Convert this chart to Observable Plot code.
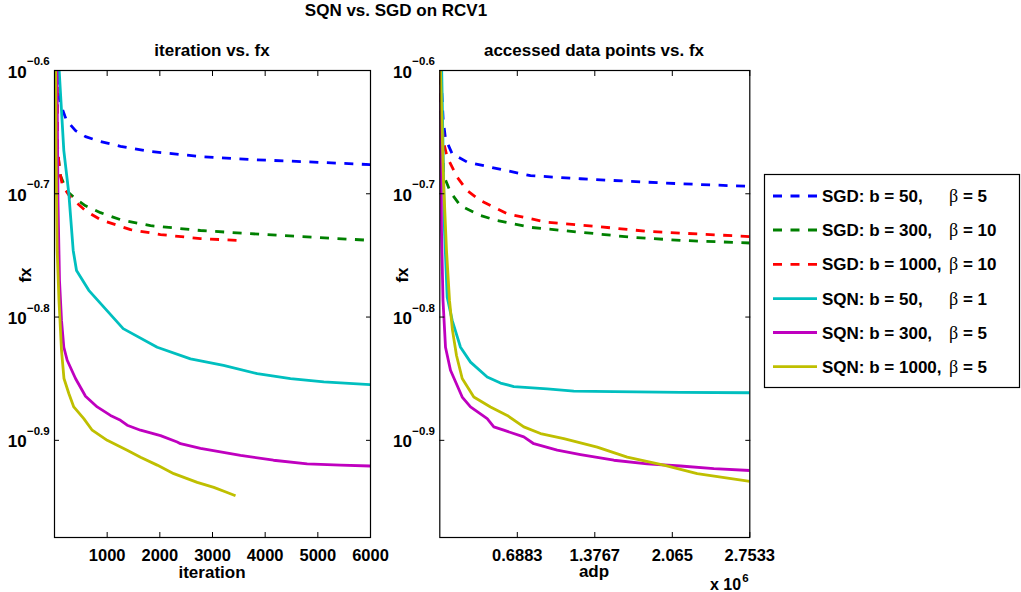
<!DOCTYPE html>
<html><head><meta charset="utf-8">
<script src="https://cdn.jsdelivr.net/npm/d3@7"></script>
<script src="https://cdn.jsdelivr.net/npm/@observablehq/plot@0.6"></script>
<style>
html,body{margin:0;padding:0;background:#fff;}
#chart{position:relative;width:1021px;height:592px;overflow:hidden;}
#chart svg{position:absolute;top:0;}
</style></head><body><div id="chart"></div>
<script>
const FONT = '"Liberation Sans", Arial, Helvetica, sans-serif';

// ---- series meta ----
const seriesColors = ["#0000ff", "#008000", "#ff0000", "#00bfbf", "#bf00bf", "#bfbf00"];
const seriesDashed = [true, true, true, false, false, false];
const legendPrefix = ["SGD: b = 50,", "SGD: b = 300,", "SGD: b = 1000,", "SQN: b = 50,", "SQN: b = 300,", "SQN: b = 1000,"];
const legendBeta = ["5", "10", "10", "1", "5", "5"];

// ---- axes ----
const yTickValues = [10 ** -0.6, 10 ** -0.7, 10 ** -0.8, 10 ** -0.9];
const yTickExponents = ["\u22120.6", "\u22120.7", "\u22120.8", "\u22120.9"];
const yDomain = [0.105, 10 ** -0.6];
const iterDomain = [0, 6000];
const iterTicks = [1000, 2000, 3000, 4000, 5000, 6000];
const iterTickLabels = ["1000", "2000", "3000", "4000", "5000", "6000"];
const adpDomain = [0, 2753300];
const adpTicks = [688325, 1376650, 2064975, 2753300];
const adpTickLabels = ["0.6883", "1.3767", "2.065", "2.7533"];

// ---- iteration vs fx : [iteration, fx] ----
const iterSGD50 = [[34,0.2656],[51,0.2512],[60,0.2419],[114,0.2360],[228,0.2288],[399,0.2245],[589,0.2220],[873,0.2200],[1253,0.2180],[1823,0.2159],[2772,0.2139],[3721,0.2127],[4671,0.2119],[6000,0.2107]];
const iterSGD300 = [[45,0.2600],[57,0.2163],[114,0.2064],[228,0.2007],[399,0.1977],[589,0.1951],[873,0.1926],[1253,0.1901],[1823,0.1880],[2772,0.1863],[3721,0.1852],[4671,0.1842],[6000,0.1829]];
const iterSGD1000 = [[45,0.2600],[57,0.2183],[95,0.2084],[152,0.2026],[304,0.1982],[589,0.1933],[873,0.1901],[1443,0.1866],[2013,0.1849],[2772,0.1835],[3456,0.1829]];
const iterSQN50 = [[57,0.2656],[89,0.2512],[177,0.2163],[272,0.1996],[355,0.1795],[418,0.1729],[651,0.1666],[873,0.1626],[1304,0.1551],[1950,0.1498],[2582,0.1466],[3209,0.1448],[3849,0.1426],[4481,0.1413],[5113,0.1404],[6000,0.1397]];
const iterSQN300 = [[44,0.2706],[47,0.2512],[66,0.1970],[95,0.1697],[133,0.1575],[177,0.1498],[241,0.1462],[399,0.1413],[589,0.1367],[811,0.1340],[1063,0.1319],[1253,0.1307],[1380,0.1295],[1633,0.1283],[2013,0.1270],[2330,0.1255],[2392,0.1251],[2772,0.1240],[3532,0.1224],[4158,0.1213],[4798,0.1205],[5430,0.1202],[6000,0.1200]];
const iterSQN1000 = [[19,0.2656],[28,0.2163],[51,0.1795],[85,0.1635],[133,0.1489],[180,0.1413],[272,0.1374],[366,0.1340],[556,0.1311],[716,0.1283],[1001,0.1259],[1380,0.1236],[1633,0.1220],[1950,0.1202],[2265,0.1183],[2710,0.1164],[3025,0.1153],[3279,0.1142],[3437,0.1135]];

// ---- accessed data points vs fx : [adp, fx] ----
const adpSGD50 = [[2000,0.2656],[8000,0.2512],[30000,0.2290],[50600,0.2211],[110100,0.2150],[243400,0.2117],[450300,0.2097],[805600,0.2064],[1249700,0.2052],[1693800,0.2042],[2137900,0.2033],[2753300,0.2023]];
const adpSGD300 = [[5000,0.2656],[10700,0.2288],[35500,0.2064],[95000,0.2001],[183900,0.1951],[361500,0.1916],[509800,0.1898],[805600,0.1874],[1249700,0.1857],[1693800,0.1840],[2137900,0.1829],[2753300,0.1820]];
const adpSGD1000 = [[4000,0.2656],[10700,0.2331],[35500,0.2192],[65700,0.2137],[154500,0.2058],[243400,0.2007],[361500,0.1970],[598600,0.1922],[953900,0.1892],[1398000,0.1877],[1842100,0.1860],[2286200,0.1851],[2753300,0.1842]];
const adpSQN50 = [[13000,0.2656],[16900,0.2512],[41700,0.1863],[65700,0.1645],[110100,0.1575],[183900,0.1498],[272700,0.1457],[421000,0.1417],[539100,0.1401],[657300,0.1392],[953900,0.1386],[1190200,0.1380],[1545500,0.1379],[2137900,0.1377],[2753300,0.1376]];
const adpSQN300 = [[4000,0.2706],[5300,0.2512],[15100,0.1863],[28400,0.1635],[50600,0.1498],[95000,0.1435],[199000,0.1365],[272700,0.1340],[421000,0.1311],[479600,0.1291],[568400,0.1283],[746100,0.1267],[834900,0.1251],[1042700,0.1236],[1249700,0.1226],[1545500,0.1213],[1842100,0.1205],[2137900,0.1200],[2433700,0.1194],[2753300,0.1190]];
const adpSQN1000 = [[5000,0.2656],[6200,0.2512],[32900,0.2045],[59500,0.1795],[86200,0.1635],[112800,0.1546],[148300,0.1475],[199000,0.1413],[302000,0.1365],[450300,0.1340],[598600,0.1319],[746100,0.1291],[894400,0.1275],[1101400,0.1263],[1398000,0.1243],[1664500,0.1220],[1989600,0.1202],[2286200,0.1183],[2753300,0.1166]];

const iterSeries = [iterSGD50, iterSGD300, iterSGD1000, iterSQN50, iterSQN300, iterSQN1000];
const adpSeries = [adpSGD50, adpSGD300, adpSGD1000, adpSQN50, adpSQN300, adpSQN1000];

const chart = document.getElementById("chart");
const LW = 2.8;

function panel({series, xDomain, xTicks, xTickLabels, left, width, marginLeft, marginRight}) {
  const plot = Plot.plot({
    width, height: 592,
    marginLeft, marginRight, marginTop: 70, marginBottom: 55,
    style: {fontFamily: FONT, background: "transparent", color: "black"},
    x: {domain: xDomain},
    y: {type: "log", domain: yDomain},
    marks: [
      ...series.map((s, i) => Plot.line(s, {
        x: d => d[0], y: d => d[1],
        stroke: seriesColors[i], strokeWidth: LW,
        strokeDasharray: seriesDashed[i] ? "9,8.5" : null,
        strokeLinecap: "butt", strokeLinejoin: "round",
        clip: true
      })),
      Plot.frame({stroke: "black", strokeWidth: 1.2}),
      Plot.axisX({anchor: "bottom", ticks: xTicks, tickSize: -5, tickFormat: () => "", label: null}),
      Plot.axisX({anchor: "top", ticks: xTicks, tickSize: -5, tickFormat: () => "", label: null}),
      Plot.axisY({anchor: "left", ticks: yTickValues, tickSize: -5, tickFormat: () => "", label: null}),
      Plot.axisY({anchor: "right", ticks: yTickValues, tickSize: -5, tickFormat: () => "", label: null}),
      Plot.axisX({anchor: "bottom", ticks: xTicks, tickSize: 0, tickPadding: 11.3,
        tickFormat: d => xTickLabels[xTicks.indexOf(d)], fontSize: 16.5, fontWeight: "bold", label: null}),
      Plot.text(yTickValues, {y: d => d, frameAnchor: "left", text: () => "10",
        textAnchor: "start", lineAnchor: "middle", dx: -46.7, dy: 1.7, fontSize: 17, fontWeight: "bold", fill: "black"}),
      Plot.text(yTickValues, {y: d => d, frameAnchor: "left", text: (d, i) => yTickExponents[i],
        textAnchor: "start", lineAnchor: "middle", dx: -27.5, dy: -9.2, fontSize: 11.5, fontWeight: "bold", fill: "black"})
    ]
  });
  plot.style.left = left + "px";
  chart.appendChild(plot);
}

panel({series: iterSeries, xDomain: iterDomain, xTicks: iterTicks, xTickLabels: iterTickLabels,
  left: 0, width: 390, marginLeft: 54, marginRight: 20});
panel({series: adpSeries, xDomain: adpDomain, xTicks: adpTicks, xTickLabels: adpTickLabels,
  left: 380, width: 410, marginLeft: 59.3, marginRight: 40.7});

// ---- overlay: titles, axis labels, legend ----
const svg = d3.select(chart).append("svg")
  .attr("width", 1021).attr("height", 592)
  .style("left", "0px").style("pointer-events", "none")
  .attr("font-family", FONT).attr("font-weight", "bold");

const texts = [
  {t: "SQN vs. SGD on RCV1", x: 396, y: 16, size: 17},
  {t: "iteration vs. fx", x: 212, y: 56, size: 17},
  {t: "accessed data points vs. fx", x: 594, y: 56, size: 17},
  {t: "iteration", x: 212, y: 578, size: 17},
  {t: "adp", x: 594, y: 577, size: 17}
];
texts.forEach(d => svg.append("text").attr("x", d.x).attr("y", d.y)
  .attr("text-anchor", "middle").attr("font-size", d.size).text(d.t));

[[30.5, 275], [408, 275]].forEach(([x, y]) => svg.append("text")
  .attr("transform", `translate(${x},${y}) rotate(-90)`)
  .attr("text-anchor", "middle").attr("font-size", 17).text("fx"));

const mult = svg.append("text").attr("x", 710).attr("y", 590).attr("font-size", 16);
mult.append("tspan").text("x 10");
mult.append("tspan").attr("dx", 1).attr("dy", -8).attr("font-size", 11.5).text("6");

// legend
const lg = svg.append("g");
lg.append("rect").attr("x", 764.5).attr("y", 174.5).attr("width", 255).attr("height", 213)
  .attr("fill", "white").attr("stroke", "black").attr("stroke-width", 1.2);
const rowY = [196, 230, 264.3, 298.7, 332.5, 366.7];
legendPrefix.forEach((label, i) => {
  lg.append("line").attr("x1", 773).attr("x2", 817).attr("y1", rowY[i]).attr("y2", rowY[i])
    .attr("stroke", seriesColors[i]).attr("stroke-width", LW)
    .attr("stroke-dasharray", seriesDashed[i] ? "9,8.5" : null);
  lg.append("text").attr("x", 822).attr("y", rowY[i] + 6).attr("font-size", 17).text(label);
  const bt = lg.append("text").attr("x", 949).attr("y", rowY[i] + 6).attr("font-size", 17);
  bt.append("tspan").attr("font-family", '"Liberation Serif", "DejaVu Serif", serif')
    .attr("font-weight", "normal").attr("font-size", 18).text("\u03b2");
  bt.append("tspan").text(" = " + legendBeta[i]);
});
</script>
</body></html>
